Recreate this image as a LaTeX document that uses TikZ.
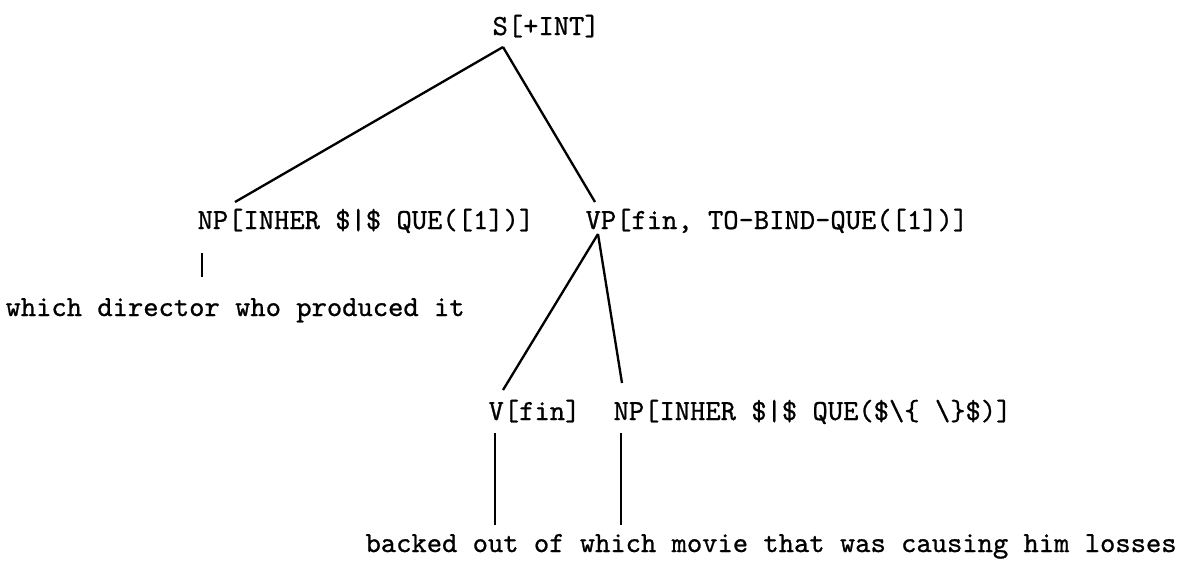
\documentclass[tikz,border=0pt]{standalone}
\usepackage{fontspec}
\setmonofont{Latin Modern Mono}[FakeBold=0.8]
\begin{document}
\begin{tikzpicture}[x=0.3431pt,y=-0.3431pt,
  lbl/.style={inner sep=0pt,anchor=base west,font=\ttfamily\fontsize{10}{12}\selectfont},
  edge/.style={line width=0.8pt}]
\useasboundingbox (0,0) rectangle (1192,566);
% category labels and words
\node[lbl] (s)   at (492,35)  {S[+INT]};
\node[lbl] (np1) at (197,229) {NP[INHER \$|\$ QUE([1])]};
\node[lbl] (vp)  at (585,229) {VP[fin, TO-BIND-QUE([1])]};
\node[lbl] (w1)  at (5,316)   {which director who produced it};
\node[lbl] (v)   at (488,420) {V[fin]};
\node[lbl] (np2) at (613,420) {NP[INHER \$|\$ QUE(\$\textbackslash\{ \textbackslash\}\$)]};
\node[lbl] (w2)  at (365,552) {backed out of which movie that was causing him losses};
% attachment points of the branches
\coordinate (sA)   at (503,47);
\coordinate (np1T) at (235,202);
\coordinate (vpT)  at (595,202);
\coordinate (vpA)  at (598,234);
\coordinate (vT)   at (503,390);
\coordinate (np2T) at (622,383);
\coordinate (b1T)  at (202,253);
\coordinate (b1B)  at (202,277);
\coordinate (vB)   at (495,433);
\coordinate (vE)   at (495,525);
\coordinate (npB)  at (621,433);
\coordinate (npE)  at (621,525);
% branches
\draw[edge] (sA) -- (np1T);
\draw[edge] (sA) -- (vpT);
\draw[edge] (vpA) -- (vT);
\draw[edge] (vpA) -- (np2T);
\draw[edge] (b1T) -- (b1B);
\draw[edge] (vB) -- (vE);
\draw[edge] (npB) -- (npE);
\end{tikzpicture}
\end{document}
